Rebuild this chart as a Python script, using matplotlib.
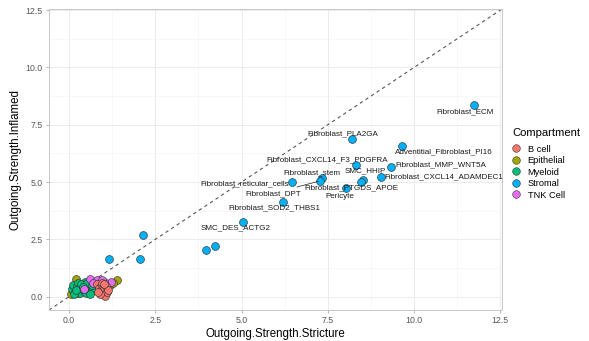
import numpy as np
import matplotlib
matplotlib.use("Agg")
import matplotlib.pyplot as plt
from matplotlib.lines import Line2D

plt.rcParams["font.family"] = ["Liberation Sans", "DejaVu Sans"]

# ---- data ----
compartments = ["B cell", "Epithelial", "Myeloid", "Stromal", "TNK Cell"]
colors = ["#F8766D", "#A3A500", "#00BF7D", "#00B0F6", "#E76BF3"]

# stromal cell types with labels
stromal_names = ["Fibroblast_ECM", "Fibroblast_PLA2GA", "Adventitial_Fibroblast_PI16",
                 "Fibroblast_CXCL14_F3_PDGFRA", "Fibroblast_MMP_WNT5A", "SMC_HHIP",
                 "Fibroblast_CXCL14_ADAMDEC1", "Fibroblast_reticular_cells", "Fibroblast_stem",
                 "Fibroblast_DPT", "Fibroblast_PTGDS_APOE", "Pericyte",
                 "Fibroblast_SOD2_THBS1", "SMC_DES_ACTG2", "", "", "", "", ""]
stromal_x = [11.73, 8.19, 9.65, 8.32, 9.34, 8.53, 9.04, 6.46, 7.33, 7.27, 8.45, 8.04,
             6.19, 5.05, 3.97, 4.22, 2.15, 2.07, 1.15]
stromal_y = [8.35, 6.86, 6.57, 5.76, 5.66, 5.08, 5.24, 5.00, 5.16, 5.05, 5.00, 4.72,
             4.11, 3.27, 2.05, 2.20, 2.70, 1.66, 1.66]

myeloid_x = [0.08, 0.12, 0.18, 0.22, 0.25, 0.30, 0.33, 0.38, 0.42, 0.45, 0.50, 0.55, 0.58,
             0.62, 0.65, 0.70, 0.15, 0.28, 0.35, 0.48, 0.52, 0.60, 0.68, 0.20, 0.40]
myeloid_y = [0.35, 0.50, 0.20, 0.45, 0.60, 0.30, 0.15, 0.50, 0.25, 0.62, 0.40, 0.20, 0.55,
             0.35, 0.48, 0.28, 0.10, 0.38, 0.55, 0.15, 0.58, 0.12, 0.50, 0.30, 0.42]

bcell_x = [0.82, 0.88, 0.92, 0.95, 1.00, 1.02, 1.05, 1.08, 1.10, 0.90, 0.97, 1.12, 0.85, 1.00]
bcell_y = [0.55, 0.40, 0.25, 0.50, 0.15, 0.35, 0.05, 0.45, 0.20, 0.10, 0.60, 0.30, 0.20, 0.55]

epi_x = [0.21, 0.05, 0.27, 1.39, 1.19, 0.50, 0.75, 0.12, 0.62, 1.28]
epi_y = [0.78, 0.13, 0.17, 0.74, 0.49, 0.20, 0.45, 0.30, 0.65, 0.58]

tnk_x = [0.61, 0.82, 1.21, 1.02, 0.43, 0.70, 0.95]
tnk_y = [0.78, 0.71, 0.66, 0.64, 0.35, 0.60, 0.72]

# label offsets (points) for the repelled labels
label_offsets = {
    "Fibroblast_ECM": (-6, -5),
    "Fibroblast_PLA2GA": (-6, 4),
    "Adventitial_Fibroblast_PI16": (30, -4.3),
    "Fibroblast_CXCL14_F3_PDGFRA": (-20.8, 3.3),
    "Fibroblast_MMP_WNT5A": (35.5, 1.7),
    "SMC_HHIP": (1.2, 6.8),
    "Fibroblast_CXCL14_ADAMDEC1": (45.4, 0),
    "Fibroblast_reticular_cells": (-34.3, -0.9),
    "Fibroblast_stem": (-7.2, 4.1),
    "Fibroblast_DPT": (-33.4, -8.9),
    "Fibroblast_PTGDS_APOE": (-6.3, -4.1),
    "Pericyte": (-5.1, -5.8),
    "Fibroblast_SOD2_THBS1": (-6, -4.1),
    "SMC_DES_ACTG2": (-5.5, -4.5),
}
seg_labels = ["Fibroblast_DPT", "Pericyte"]

# ---- plot ----
fig = plt.figure(figsize=(5.89, 3.41), dpi=100)
ax = fig.add_axes([49 / 589, 31 / 341, 453 / 589, 301 / 341])

lims = (-0.58, 12.55)
ax.set_xlim(lims)
ax.set_ylim(lims)

ticks = [0, 2.5, 5, 7.5, 10, 12.5]
ax.set_xticks(ticks)
ax.set_yticks(ticks)
ax.set_xticklabels(["0.0", "2.5", "5.0", "7.5", "10.0", "12.5"])
ax.set_yticklabels(["0.0", "2.5", "5.0", "7.5", "10.0", "12.5"])
ax.set_xticks([1.25, 3.75, 6.25, 8.75, 11.25], minor=True)
ax.set_yticks([1.25, 3.75, 6.25, 8.75, 11.25], minor=True)
ax.grid(which="major", color="#EBEBEB", lw=0.7)
ax.grid(which="minor", color="#F3F3F3", lw=0.4)
ax.set_axisbelow(True)
ax.tick_params(which="major", length=2.5, width=0.5, color="#999999",
               labelsize=6.3, labelcolor="#555555", pad=2)
ax.tick_params(which="minor", length=0)
for s in ax.spines.values():
    s.set_color("#C8C8C8")
    s.set_linewidth(0.7)

# identity line
ax.plot(lims, lims, ls=(0, (3, 3)), color="#555555", lw=0.8, zorder=1)

pt = dict(s=32, edgecolors="#333333", linewidths=0.45, zorder=3)
h_epi = ax.scatter(epi_x, epi_y, c=colors[1], **pt)
h_my = ax.scatter(myeloid_x, myeloid_y, c=colors[2], **pt)
h_tnk = ax.scatter(tnk_x, tnk_y, c=colors[4], **pt)
h_b = ax.scatter(bcell_x, bcell_y, c=colors[0], **pt)
h_st = ax.scatter(stromal_x, stromal_y, c=colors[3], **pt)

for name, x, y in zip(stromal_names, stromal_x, stromal_y):
    if name == "":
        continue
    dx, dy = label_offsets[name]
    if name in seg_labels:
        ax.annotate(name, (x, y), xytext=(dx, dy), textcoords="offset points",
                    ha="center", va="center", fontsize=5.8, color="#1a1a1a", zorder=4,
                    arrowprops=dict(arrowstyle="-", lw=0.5, color="#1a1a1a",
                                    shrinkA=0, shrinkB=1))
    else:
        ax.annotate(name, (x, y), xytext=(dx, dy), textcoords="offset points",
                    ha="center", va="center", fontsize=5.8, color="#1a1a1a", zorder=4)

ax.set_xlabel("Outgoing.Strength.Stricture", fontsize=8.3, labelpad=2)
ax.set_ylabel("Outgoing.Strength.Inflamed", fontsize=8.3, labelpad=3)

# legend: title drawn separately to get the ggplot gap
fig.text(512 / 589, 1 - 132.7 / 341, "Compartment", ha="left", va="center", fontsize=8.1)
handles = [Line2D([], [], ls="", marker="o", markersize=5.5, markerfacecolor=c,
                  markeredgecolor="#333333", markeredgewidth=0.4) for c in colors]
leg = fig.legend(handles, compartments, loc="upper left",
                 bbox_to_anchor=(511 / 589, 1 - 144.5 / 341), frameon=False,
                 fontsize=6.7, borderpad=0, labelspacing=0.27, handletextpad=0.8,
                 handlelength=1.0, borderaxespad=0)

fig.savefig("out.png", dpi=100)
